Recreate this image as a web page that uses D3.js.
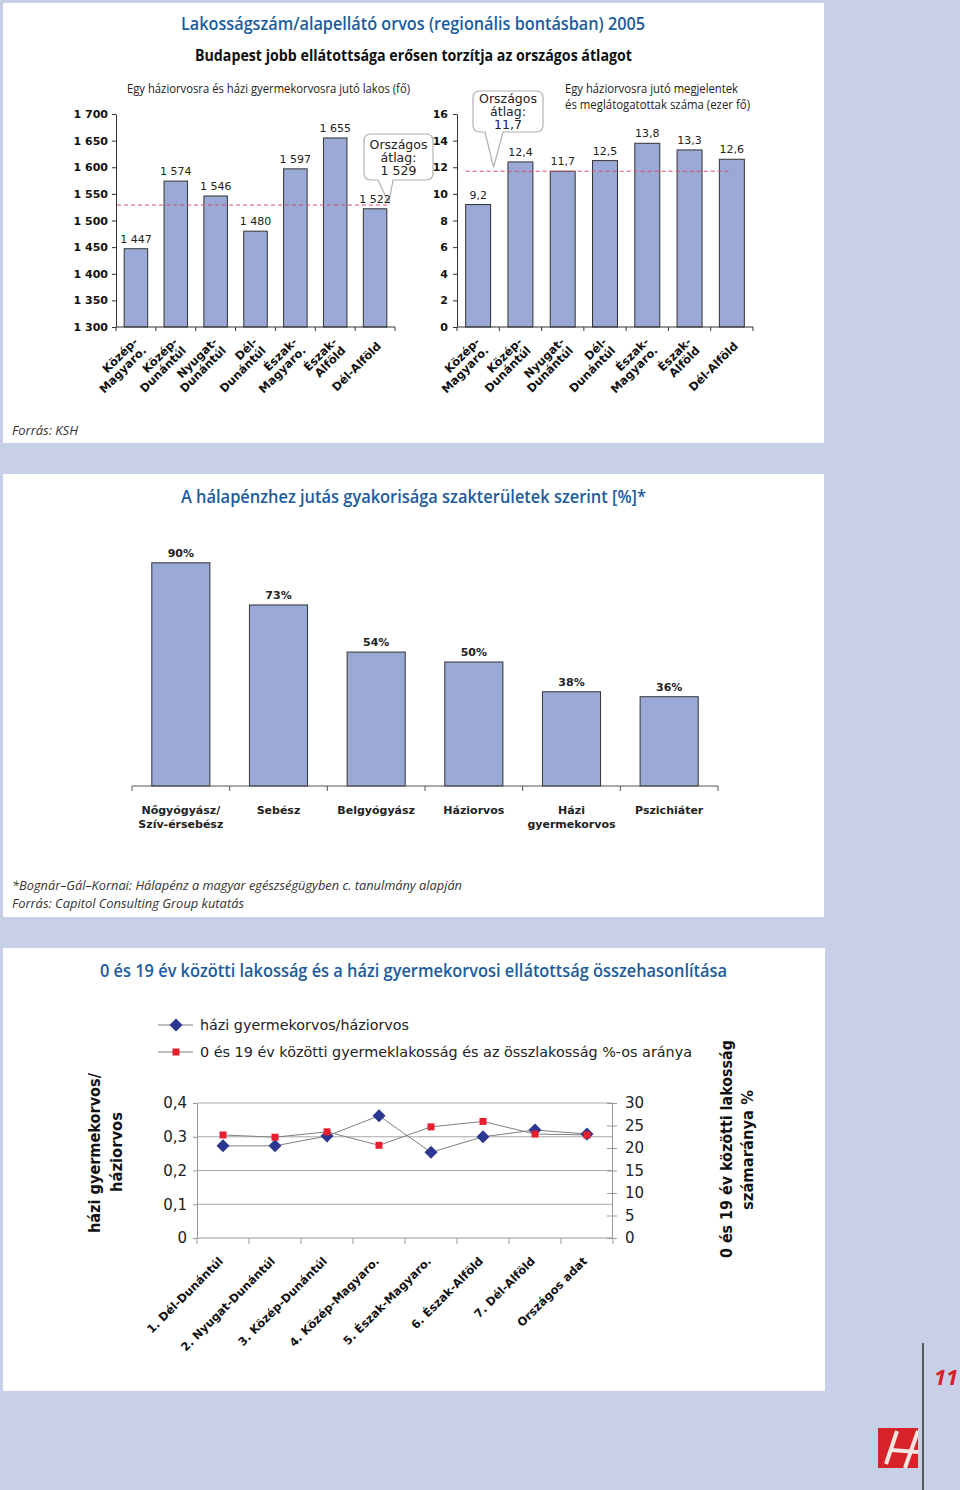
<!DOCTYPE html>
<html>
<head>
<meta charset="utf-8">
<script src="https://cdn.jsdelivr.net/npm/d3@7"></script>
<style>
  body { margin: 0; background: #c8d0e8; }
  svg { display: block; }
</style>
</head>
<body>
<svg id="page" width="960" height="1490"></svg>
<script>
// ---- data ----
var regions = [["Közép-", "Magyaro."], ["Közép-", "Dunántúl"], ["Nyugat-", "Dunántúl"], ["Dél-", "Dunántúl"],
               ["Észak-", "Magyaro."], ["Észak-", "Alföld"], ["Dél-Alföld"]];
var lakosPerOrvos = [1447, 1574, 1546, 1480, 1597, 1655, 1522];
var lakosAtlag = 1529;
var lakosTicks = [1300, 1350, 1400, 1450, 1500, 1550, 1600, 1650, 1700];

var latogatas = [9.2, 12.4, 11.7, 12.5, 13.8, 13.3, 12.6];
var latogatasAtlag = 11.7;
var latogatasTicks = [0, 2, 4, 6, 8, 10, 12, 14, 16];

var szakteruletek = [["Nőgyógyász/", "Szív-érsebész"], ["Sebész"], ["Belgyógyász"], ["Háziorvos"],
                     ["Házi", "gyermekorvos"], ["Pszichiáter"]];
var halapenzPct = [90, 73, 54, 50, 38, 36];

var teruletek = ["1. Dél-Dunántúl", "2. Nyugat-Dunántúl", "3. Közép-Dunántúl", "4. Közép-Magyaro.",
                 "5. Észak-Magyaro.", "6. Észak-Alföld", "7. Dél-Alföld", "Országos adat"];
var gyermekPerHazi = [0.273, 0.273, 0.302, 0.362, 0.254, 0.300, 0.320, 0.308];
var gyermekArany = [22.9, 22.4, 23.6, 20.6, 24.7, 25.9, 23.1, 22.9];
var aranyTicks = [0, 0.1, 0.2, 0.3, 0.4];
var szazalekTicks = [0, 5, 10, 15, 20, 25, 30];

// ---- setup ----
var svg = d3.select("#page");
var hu = d3.formatLocale({ decimal: ",", thousands: " ", grouping: [3], currency: ["", ""] });
var fmtInt = hu.format(",d");
var fmt1 = hu.format(".1f");

var blue = "#1b5c9c", barFill = "#9aa9d6", barStroke = "#333";
var chartFont = "'DejaVu Sans', Verdana, sans-serif";
var titleFont = "'Open Sans', 'Noto Sans', sans-serif";

svg.append("rect").attr("width", 960).attr("height", 1490).attr("fill", "#c8d0e8");
// white panels
[[3, 3, 821, 440], [3, 474, 821, 443], [3, 948, 822, 443]].forEach(function (p) {
    svg.append("rect").attr("x", p[0]).attr("y", p[1]).attr("width", p[2]).attr("height", p[3]).attr("fill", "#fff");
});

// text helper, squeezes to the width seen in the picture
function txt(x, y, str, size, opts) {
    opts = opts || {};
    var t = svg.append("text")
        .attr("x", x).attr("y", y)
        .attr("font-family", opts.family || titleFont)
        .attr("font-size", size)
        .attr("font-weight", opts.weight || "normal")
        .attr("font-style", opts.style || "normal")
        .attr("fill", opts.fill || "#111")
        .text(str);
    if (opts.width) t.attr("textLength", opts.width).attr("lengthAdjust", "spacingAndGlyphs");
    return t;
}

function rotLabel(g, x, y, lines, size, angle, lh) {
    var t = g.append("text")
        .attr("transform", "translate(" + x + "," + y + ") rotate(" + angle + ")")
        .attr("text-anchor", "end")
        .attr("font-family", chartFont)
        .attr("font-size", size)
        .attr("font-weight", "bold")
        .attr("fill", "#111");
    lines.forEach(function (l, i) {
        t.append("tspan").attr("x", 0)
            .attr("dy", i === 0 ? (0.35 - (lines.length - 1) / 2 * lh) + "em" : lh + "em")
            .text(l);
    });
    return t;
}

function styleAxis(g, color, size, weight) {
    g.attr("font-family", null).attr("font-size", null);
    g.select(".domain").attr("stroke", color);
    g.selectAll(".tick line").attr("stroke", color);
    g.selectAll(".tick text").attr("fill", "#111")
        .attr("font-family", chartFont).attr("font-size", size).attr("font-weight", weight);
}

// category boundaries for band scales (ticks sit between bars)
function boundaryTicks(g, scale, y, len, color) {
    var off = (scale.step() - scale.bandwidth()) / 2;
    var xs = scale.domain().map(function (d) { return scale(d) - off; }).concat([scale.range()[1]]);
    g.append("line").attr("x1", scale.range()[0]).attr("x2", scale.range()[1])
        .attr("y1", y).attr("y2", y).attr("stroke", color);
    g.selectAll(".bt").data(xs).join("line").attr("class", "bt")
        .attr("x1", function (d) { return d; }).attr("x2", function (d) { return d; })
        .attr("y1", y).attr("y2", y + len).attr("stroke", color);
}

function callout(g, box, base, tip, lines) {
    var x = box[0], y = box[1], w = box[2], h = box[3], r = 7;
    var d = "M" + (x + r) + "," + y + "H" + (x + w - r) + "Q" + (x + w) + "," + y + " " + (x + w) + "," + (y + r) +
        "V" + (y + h - r) + "Q" + (x + w) + "," + (y + h) + " " + (x + w - r) + "," + (y + h) +
        "H" + base[1] + "L" + tip[0] + "," + tip[1] + "L" + base[0] + "," + (y + h) +
        "H" + (x + r) + "Q" + x + "," + (y + h) + " " + x + "," + (y + h - r) +
        "V" + (y + r) + "Q" + x + "," + y + " " + (x + r) + "," + y + "Z";
    g.append("path").attr("d", d).attr("fill", "#fff").attr("stroke", "#b0b0b0").attr("stroke-width", 1.2);
    var t = g.append("text").attr("text-anchor", "middle").attr("font-family", chartFont)
        .attr("font-size", 12.5).attr("fill", "#222");
    var cy = y + h / 2;
    lines.forEach(function (l, i) {
        t.append("tspan").attr("x", x + w / 2).attr("y", cy + (i - 1) * 13 + 4.5).text(l);
    });
}

// ---- titles top panel ----
txt(181, 30, "Lakosságszám/alapellátó orvos (regionális bontásban) 2005", 18, { weight: 600, fill: blue, width: 464 });
txt(195, 61, "Budapest jobb ellátottsága erősen torzítja az országos átlagot", 16, { weight: "bold", width: 437 });
txt(127, 93, "Egy háziorvosra és házi gyermekorvosra jutó lakos (fő)", 12.5, { fill: "#222", width: 283 });
txt(565, 93, "Egy háziorvosra jutó megjelentek", 12.5, { fill: "#222", width: 173 });
txt(565, 109, "és meglátogatottak száma (ezer fő)", 12.5, { fill: "#222", width: 185 });
txt(12, 435, "Forrás: KSH", 13, { style: "italic", fill: "#333", width: 66 });

// ---- chart 1: lakos per orvos ----
var keysL = regions.map(function (d) { return d.join(""); });
var xL = d3.scaleBand().domain(keysL).range([116, 395]).paddingInner(0.41).paddingOuter(0.205);
var yL = d3.scaleLinear().domain([1300, 1700]).range([327, 114]);
var gL = svg.append("g");

gL.selectAll("rect.bar").data(lakosPerOrvos).join("rect").attr("class", "bar")
    .attr("x", function (d, i) { return xL(keysL[i]); })
    .attr("y", function (d) { return yL(d); })
    .attr("width", xL.bandwidth())
    .attr("height", function (d) { return yL(1300) - yL(d); })
    .attr("fill", barFill).attr("stroke", barStroke);

gL.append("line")
    .attr("x1", xL.range()[0] + 1).attr("x2", xL(keysL[keysL.length - 1]) + xL.bandwidth() + 2)
    .attr("y1", yL(lakosAtlag)).attr("y2", yL(lakosAtlag))
    .attr("stroke", "#d9506a").attr("stroke-dasharray", "4,3");

var tipL = [xL(keysL[keysL.length - 1]) + xL.bandwidth() + 2, yL(lakosAtlag) - 2];
callout(gL, [364, 134, 69, 46], [378, 393], tipL, ["Országos", "átlag:", fmtInt(lakosAtlag)]);

gL.selectAll("text.val").data(lakosPerOrvos).join("text").attr("class", "val")
    .attr("x", function (d, i) { return xL(keysL[i]) + xL.bandwidth() / 2; })
    .attr("y", function (d) { return yL(d) - 6; })
    .attr("text-anchor", "middle").attr("font-family", chartFont).attr("font-size", 11).attr("fill", "#222")
    .text(function (d) { return fmtInt(d); });

gL.append("g").attr("transform", "translate(116,0)")
    .call(d3.axisLeft(yL).tickValues(lakosTicks).tickFormat(fmtInt).tickSize(4).tickSizeOuter(0).tickPadding(4))
    .call(styleAxis, "#333", 11, "bold");
boundaryTicks(gL, xL, 327, 4, "#333");
regions.forEach(function (r, i) {
    rotLabel(gL, xL(keysL[i]) + xL.bandwidth() / 2 + 4, 344, r, 11.5, -45, 1.05);
});

// ---- chart 2: latogatasok ----
var xR = d3.scaleBand().domain(keysL).range([457, 753]).paddingInner(0.41).paddingOuter(0.205);
var yR = d3.scaleLinear().domain([0, 16]).range([327, 114]);
var gR = svg.append("g");

gR.selectAll("rect.bar").data(latogatas).join("rect").attr("class", "bar")
    .attr("x", function (d, i) { return xR(keysL[i]); })
    .attr("y", function (d) { return yR(d); })
    .attr("width", xR.bandwidth())
    .attr("height", function (d) { return yR(0) - yR(d); })
    .attr("fill", barFill).attr("stroke", barStroke);

gR.append("line")
    .attr("x1", xR(keysL[0])).attr("x2", xR(keysL[keysL.length - 1]) + xR.bandwidth() / 2)
    .attr("y1", yR(latogatasAtlag)).attr("y2", yR(latogatasAtlag))
    .attr("stroke", "#d9506a").attr("stroke-dasharray", "4,3");

var tipR = [xR(keysL[0]) + xR.bandwidth() + 3, yR(latogatasAtlag) - 4];
callout(gR, [473, 91, 70, 41], [485, 503], tipR, ["Országos", "átlag:", fmt1(latogatasAtlag)]);

gR.selectAll("text.val").data(latogatas).join("text").attr("class", "val")
    .attr("x", function (d, i) { return xR(keysL[i]) + xR.bandwidth() / 2; })
    .attr("y", function (d) { return yR(d) - 6; })
    .attr("text-anchor", "middle").attr("font-family", chartFont).attr("font-size", 11).attr("fill", "#222")
    .text(function (d) { return fmt1(d); });

gR.append("g").attr("transform", "translate(457,0)")
    .call(d3.axisLeft(yR).tickValues(latogatasTicks).tickFormat(d3.format("d")).tickSize(4).tickSizeOuter(0).tickPadding(5))
    .call(styleAxis, "#333", 11, "bold");
boundaryTicks(gR, xR, 327, 4, "#333");
regions.forEach(function (r, i) {
    rotLabel(gR, xR(keysL[i]) + xR.bandwidth() / 2 + 4, 344, r, 11.5, -45, 1.05);
});

// ---- middle panel: halapenz ----
txt(181, 503, "A hálapénzhez jutás gyakorisága szakterületek szerint [%]*", 18, { weight: 600, fill: blue, width: 465 });
txt(12, 890, "*Bognár–Gál–Kornai: Hálapénz a magyar egészségügyben c. tanulmány alapján", 13, { style: "italic", fill: "#333", width: 450 });
txt(12, 908, "Forrás: Capitol Consulting Group kutatás", 13, { style: "italic", fill: "#333", width: 232 });

var keysM = szakteruletek.map(function (d) { return d.join(" "); });
var xM = d3.scaleBand().domain(keysM).range([132, 718]).paddingInner(0.405).paddingOuter(0.2025);
var yM = d3.scaleLinear().domain([0, 100]).range([786, 538]);
var gM = svg.append("g");

gM.selectAll("rect.bar").data(halapenzPct).join("rect").attr("class", "bar")
    .attr("x", function (d, i) { return xM(keysM[i]); })
    .attr("y", function (d) { return yM(d); })
    .attr("width", xM.bandwidth())
    .attr("height", function (d) { return yM(0) - yM(d); })
    .attr("fill", barFill).attr("stroke", barStroke);

gM.selectAll("text.val").data(halapenzPct).join("text").attr("class", "val")
    .attr("x", function (d, i) { return xM(keysM[i]) + xM.bandwidth() / 2; })
    .attr("y", function (d) { return yM(d) - 6; })
    .attr("text-anchor", "middle").attr("font-family", chartFont).attr("font-size", 11)
    .attr("font-weight", "bold").attr("fill", "#222")
    .text(function (d) { return d + "%"; });

boundaryTicks(gM, xM, 786, 5, "#555");
szakteruletek.forEach(function (s, i) {
    var t = gM.append("text").attr("text-anchor", "middle").attr("font-family", chartFont)
        .attr("font-size", 11).attr("font-weight", "bold").attr("fill", "#222");
    s.forEach(function (l, j) {
        t.append("tspan").attr("x", xM(keysM[i]) + xM.bandwidth() / 2).attr("y", 814 + j * 14).text(l);
    });
});

// ---- bottom panel: gyermek / hazi ----
txt(100, 977, "0 és 19 év közötti lakosság és a házi gyermekorvosi ellátottság összehasonlítása", 18, { weight: 600, fill: blue, width: 627 });

var xB = d3.scaleBand().domain(teruletek).range([197, 613]);
var yB = d3.scaleLinear().domain([0, 0.4]).range([1238, 1103]);
var yB2 = d3.scaleLinear().domain([0, 30]).range([1238, 1103]);
var gB = svg.append("g");
var cx = function (i) { return xB(teruletek[i]) + xB.bandwidth() / 2; };

gB.selectAll("line.grid").data(aranyTicks.slice(1)).join("line").attr("class", "grid")
    .attr("x1", 197).attr("x2", 613)
    .attr("y1", function (d) { return yB(d); }).attr("y2", function (d) { return yB(d); })
    .attr("stroke", "#a8a8a8");

gB.append("g").attr("transform", "translate(197,0)")
    .call(d3.axisLeft(yB).tickValues(aranyTicks)
        .tickFormat(function (d) { return d === 0 ? "0" : fmt1(d); })
        .tickSize(4).tickSizeOuter(0).tickPadding(6))
    .call(styleAxis, "#999", 15, "normal");

gB.append("g").attr("transform", "translate(612,0)")
    .call(d3.axisRight(yB2).tickValues(szazalekTicks).tickFormat(d3.format("d"))
        .tickSize(5).tickSizeOuter(0).tickPadding(8))
    .call(styleAxis, "#999", 15, "normal")
    .call(function (g) { g.selectAll(".tick line").attr("x1", -5); });
gB.selectAll(".tick text").attr("fill", "#222");

boundaryTicks(gB, xB, 1238, 6, "#999");

var lineRatio = d3.line().x(function (d, i) { return cx(i); }).y(function (d) { return yB(d); });
var lineShare = d3.line().x(function (d, i) { return cx(i); }).y(function (d) { return yB2(d); });
gB.append("path").datum(gyermekArany).attr("d", lineShare).attr("fill", "none").attr("stroke", "#7f7f7f");
gB.append("path").datum(gyermekPerHazi).attr("d", lineRatio).attr("fill", "none").attr("stroke", "#7f7f7f");

var diamond = "M0,-6.5L6.5,0L0,6.5L-6.5,0Z";
gB.selectAll("path.dia").data(gyermekPerHazi).join("path").attr("class", "dia")
    .attr("d", diamond).attr("fill", "#2b3790")
    .attr("transform", function (d, i) { return "translate(" + cx(i) + "," + yB(d) + ")"; });
gB.selectAll("rect.sq").data(gyermekArany).join("rect").attr("class", "sq")
    .attr("x", function (d, i) { return cx(i) - 3.5; })
    .attr("y", function (d) { return yB2(d) - 3.5; })
    .attr("width", 7).attr("height", 7).attr("fill", "#e5202e");

teruletek.forEach(function (t, i) {
    rotLabel(gB, cx(i) - 2, 1259, [t], 11.5, -45, 1.1);
});

// legend
var legend = [
    { label: "házi gyermekorvos/háziorvos", y: 1025, mark: "dia", w: 209 },
    { label: "0 és 19 év közötti gyermeklakosság és az összlakosság %-os aránya", y: 1052, mark: "sq", w: 492 }
];
legend.forEach(function (l) {
    gB.append("line").attr("x1", 158).attr("x2", 193).attr("y1", l.y).attr("y2", l.y).attr("stroke", "#7f7f7f");
    if (l.mark === "dia") {
        gB.append("path").attr("d", diamond).attr("fill", "#2b3790").attr("transform", "translate(176," + l.y + ")");
    } else {
        gB.append("rect").attr("x", 172.5).attr("y", l.y - 3.5).attr("width", 7).attr("height", 7).attr("fill", "#e5202e");
    }
    gB.append("text").attr("x", 200).attr("y", l.y + 5).attr("font-family", chartFont).attr("font-size", 14)
        .attr("fill", "#222").attr("textLength", l.w).attr("lengthAdjust", "spacingAndGlyphs").text(l.label);
});

// axis titles
function vtext(x, y, str, width) {
    gB.append("text").attr("transform", "translate(" + x + "," + y + ") rotate(-90)")
        .attr("text-anchor", "middle").attr("dy", "0.35em")
        .attr("font-family", chartFont).attr("font-size", 15).attr("font-weight", "bold").attr("fill", "#111")
        .attr("textLength", width).attr("lengthAdjust", "spacingAndGlyphs")
        .text(str);
}
vtext(95, 1153, "házi gyermekorvos/", 160);
vtext(117, 1152, "háziorvos", 80);
vtext(727, 1149, "0 és 19 év közötti lakosság", 218);
vtext(748, 1150, "számaránya %", 120);

// ---- page furniture ----
svg.append("line").attr("x1", 923).attr("x2", 923).attr("y1", 1343).attr("y2", 1490)
    .attr("stroke", "#333").attr("stroke-width", 1.5);
svg.append("text").attr("x", 934).attr("y", 1385).attr("font-family", titleFont).attr("font-size", 22)
    .attr("font-weight", "bold").attr("font-style", "italic").attr("fill", "#d8202a").text("11");

var logo = svg.append("g");
logo.append("clipPath").attr("id", "logoclip").append("rect")
    .attr("x", 878).attr("y", 1428).attr("width", 40).attr("height", 40);
logo.append("rect").attr("x", 878).attr("y", 1428).attr("width", 40).attr("height", 40).attr("fill", "#d8222a");
var lg = logo.append("g").attr("clip-path", "url(#logoclip)").attr("stroke", "#f4e6e0").attr("stroke-width", 4);
lg.append("line").attr("x1", 897).attr("y1", 1431).attr("x2", 886).attr("y2", 1464);
lg.append("line").attr("x1", 918).attr("y1", 1431).attr("x2", 905).attr("y2", 1468);
lg.append("line").attr("x1", 891).attr("y1", 1450).attr("x2", 918).attr("y2", 1452);
</script>
</body>
</html>
